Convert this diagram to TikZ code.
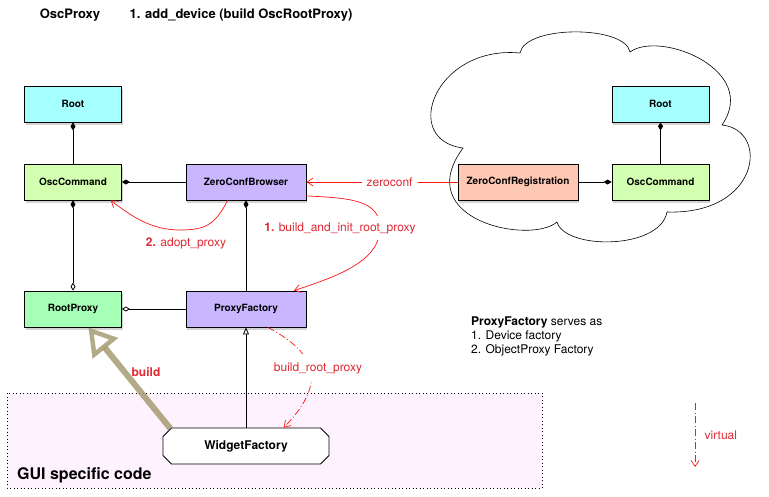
\documentclass[tikz,border=0pt]{standalone}
\usepackage{fontspec}
\setmainfont{TeX Gyre Heros}
\usetikzlibrary{calc}
\usetikzlibrary{arrows.meta}
\usetikzlibrary{shapes.misc}
\usetikzlibrary{shadows}

\definecolor{rootcol}{RGB}{166,255,255}
\definecolor{cmdcol}{RGB}{210,255,176}
\definecolor{zccol}{RGB}{200,182,255}
\definecolor{proxycol}{RGB}{166,255,182}
\definecolor{regcol}{RGB}{255,200,180}
\definecolor{guicol}{RGB}{253,242,253}
\definecolor{linkred}{RGB}{255,20,20}
\definecolor{textred}{RGB}{222,40,50}
\definecolor{buildcol}{RGB}{160,150,105}

\begin{document}
\begin{tikzpicture}[x = 1pt, y = -1pt,
    box/.style = {draw, line width = 0.8pt, minimum width = 97pt, minimum height = 36pt,
        inner sep = 0pt, font = \fontsize{10}{12}\selectfont\bfseries,
        drop shadow = {shadow xshift = 1pt, shadow yshift = -2.5pt, opacity = 0.35}},
    widebox/.style = {box, minimum width = 120pt},
    head/.style = {font = \fontsize{13}{15}\selectfont\bfseries},
    lbl/.style = {text = textred, font = \fontsize{12}{14}\selectfont},
    link/.style = {draw, line width = 0.8pt},
    owns/.style = {link, {Diamond[length = 8pt, width = 5pt]}-},
    call/.style = {draw = linkred, line width = 0.7pt, -{Straight Barb[length = 6pt, width = 8pt]}},
    virt/.style = {call, dash pattern = on 7pt off 2.5pt on 1pt off 2.5pt}]
    \useasboundingbox (0,0) rectangle (769,496);

    \draw[fill = guicol, line width = 0.7pt, dash pattern = on 1pt off 2.5pt] (7,393) rectangle (542,488);

    \draw[line width = 0.6pt] (520,53) .. controls (525,25) and (625,25) .. (630,52)
        .. controls (660,30) and (760,70) .. (722,125)
        .. controls (770,130) and (760,215) .. (667,212)
        .. controls (660,250) and (565,250) .. (557,222)
        .. controls (530,245) and (410,220) .. (463,148)
        .. controls (400,140) and (435,45) .. (520,53) -- cycle;

    \node[head] (title) at (70,15) {OscProxy};
    \node[head] (adddev) at (241,15) {1. add\_device (build OscRootProxy)};

    \node[box, fill = rootcol] (rootL) at (73,104) {Root};
    \node[box, fill = cmdcol] (oscL) at (73,182) {OscCommand};
    \node[widebox, fill = zccol] (zcb) at (246,182) {ZeroConfBrowser};
    \node[box, fill = proxycol] (rproxy) at (73,309) {RootProxy};
    \node[widebox, fill = zccol] (pfac) at (246,309) {ProxyFactory};
    \node[draw, fill = white, line width = 0.8pt, chamfered rectangle, chamfered rectangle xsep = 5pt,
        minimum width = 166pt, minimum height = 36pt, inner sep = 0pt,
        font = \fontsize{12}{14}\selectfont\bfseries] (wfac) at (246,446) {WidgetFactory};

    \node[box, fill = rootcol] (rootR) at (660.5,104) {Root};
    \node[box, fill = cmdcol] (oscR) at (660.5,182) {OscCommand};
    \node[widebox, fill = regcol] (zcr) at (518,182) {ZeroConfRegistration};

    \draw[owns] (rootL) -- (oscL);
    \draw[owns] (oscL) -- (zcb);
    \draw[link, {Diamond[length = 8pt, width = 5pt]}-{Diamond[open, length = 8pt, width = 5pt]}] (oscL) -- (rproxy);
    \draw[owns] (zcb) -- (pfac);
    \draw[link, {Diamond[open, length = 8pt, width = 5pt]}-] (rproxy) -- (pfac);
    \draw[link, {Triangle[open, length = 7pt, width = 6pt]}-] (pfac) -- (wfac);
    \draw[owns] (rootR) -- (oscR);
    \draw[link, -{Diamond[length = 8pt, width = 5pt]}] (zcr) -- (oscR);

    \draw[buildcol, opacity = 0.8, line width = 6pt,
        -{Triangle[open, length = 27pt, width = 32pt, line width = 4.5pt]}] (wfac.167) -- (rproxy.-50);
    \node[lbl, font = \fontsize{12}{14}\selectfont\bfseries] (buildlbl) at (146,372) {build};

    \draw[call] (zcr) -- node[lbl, fill = white, pos = 0.45, inner xsep = 5pt] (zclbl) {zeroconf} (zcb);
    \draw[call] (zcb.-13) .. controls (350,198) and (380,200) .. (380,228)
        .. controls (380,262) and (335,277) .. (pfac.21);
    \node[lbl, fill = white, inner ysep = 6.5pt] (initlbl) at (340,228) {\textbf{1.} build\_and\_init\_root\_proxy};
    \draw[call] (zcb.-135) .. controls (215,225) and (205,230) .. (180,230)
        .. controls (150,230) and (130,215) .. (oscL.-26);
    \node[lbl] (adoptlbl) at (186,243) {\textbf{2.} adopt\_proxy};
    \draw[virt] (pfac.-40) .. controls (320,355) and (325,385) .. (wfac.26);
    \node[lbl, fill = white, inner ysep = 8pt] (rootlbl) at (318,368) {build\_root\_proxy};

    \coordinate (vtop) at (695,403);
    \coordinate (vend) at (695,467);
    \draw[virt] (vtop) -- node[lbl, right = 6pt] (vlbl) {virtual} (vend);

    \foreach \t [count=\k] in {{\textbf{ProxyFactory} serves as},
    {1. Device factory},
    {2. ObjectProxy Factory}}
  {
   \node[anchor = west, inner sep = 0pt, font = \fontsize{12}{14}\selectfont] (note\k) at (471,308 + 14*\k) {\t};
  }

    \node[anchor = west, inner sep = 0pt, font = \fontsize{16}{18}\selectfont\bfseries] (guilbl) at (17,475) {GUI specific code};
\end{tikzpicture}
\end{document}
